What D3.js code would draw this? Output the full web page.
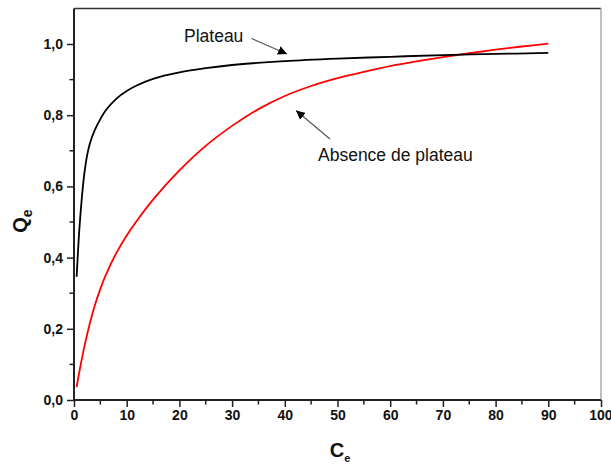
<!DOCTYPE html>
<html><head><meta charset="utf-8">
<script src="https://cdn.jsdelivr.net/npm/d3@7"></script>
<style>html,body{margin:0;padding:0;background:#fff;}svg{display:block;}</style>
</head><body>
<script>
// ---- Data ----
const cPlateau = [0.5,1,1.5,2,2.5,3,4,5,6,8,10,12,15,20,25,30,40,50,60,70,80,90];
const qPlateau = [0.346,0.476,0.57,0.64,0.688,0.72,0.76,0.789,0.813,0.846,0.868,0.884,0.902,0.92,0.932,0.941,0.952,0.959,0.964,0.969,0.972,0.975];
const cAbsence = [0.5,1,2,3,4,5,6,8,10,12,15,20,25,30,35,40,45,50,55,60,65,70,75,80,85,90];
const qAbsence = [0.036,0.078,0.152,0.215,0.268,0.312,0.35,0.412,0.462,0.505,0.563,0.645,0.714,0.770,0.817,0.854,0.882,0.904,0.922,0.938,0.951,0.963,0.974,0.984,0.993,1.001];
const xTicks = [0,10,20,30,40,50,60,70,80,90,100];
const yTicks = [0,0.2,0.4,0.6,0.8,1.0];
const labels = ["Plateau","Absence de plateau"];

const W = 611, H = 464;
const svg = d3.select("body").append("svg").attr("width", W).attr("height", H);
const x = d3.scaleLinear().domain([0,100]).range([74,601]);
const y = d3.scaleLinear().domain([0,1.1]).range([400,8.4]);
const fmt = d => d3.format(".1f")(d).replace(".", ",");
const font = "'Liberation Sans', Arial, sans-serif";

// frame top & right
svg.append("line").attr("x1",x(0)).attr("x2",x(100)).attr("y1",y(1.1)).attr("y2",y(1.1))
  .attr("stroke","#333").attr("stroke-width",1.5);
svg.append("line").attr("x1",x(100)).attr("x2",x(100)).attr("y1",y(1.1)).attr("y2",y(0))
  .attr("stroke","#aaa").attr("stroke-width",1.5);

// Axes
const xAxis = d3.axisBottom(x).tickValues(xTicks).tickSize(7).tickPadding(3).tickFormat(d3.format("d"));
const yAxis = d3.axisLeft(y).tickValues(yTicks).tickSize(7).tickPadding(4).tickFormat(fmt);
const gx = svg.append("g").attr("transform",`translate(0,${y(0)})`).call(xAxis);
const gy = svg.append("g").attr("transform",`translate(${x(0)},0)`).call(yAxis);
// minor ticks
const xMinor = d3.range(5,100,10);
gx.selectAll(".minor").data(xMinor).enter().append("line")
  .attr("x1",d=>x(d)).attr("x2",d=>x(d)).attr("y1",0).attr("y2",4.5);
const yMinor = [0.1,0.3,0.5,0.7,0.9];
gy.selectAll(".minor").data(yMinor).enter().append("line")
  .attr("y1",d=>y(d)).attr("y2",d=>y(d)).attr("x1",0).attr("x2",-4.5);
[gx,gy].forEach(g=>{
  g.select(".domain").attr("stroke","#222").attr("stroke-width",2);
  g.selectAll("line").attr("stroke","#222").attr("stroke-width",1.5);
  g.selectAll("text").attr("font-family",font).attr("font-weight","bold").attr("font-size",14).attr("fill","#111");
});
gy.select(".domain").attr("d",`M0,${y(0)}V${y(1.1)}`);
gx.select(".domain").attr("d",`M${x(0)},0H${x(100)}`);
// keep the last label inside the window
gx.selectAll(".tick text").filter(d => d === 100).attr("text-anchor","end").attr("dx", 11);

// Curves
const line = d3.line().curve(d3.curveCatmullRom.alpha(0.5));
const ptsP = cPlateau.map((c,i)=>[x(c),y(qPlateau[i])]);
const ptsA = cAbsence.map((c,i)=>[x(c),y(qAbsence[i])]);
svg.append("path").attr("d",line(ptsA)).attr("fill","none").attr("stroke","#ff0000").attr("stroke-width",1.8);
svg.append("path").attr("d",line(ptsP)).attr("fill","none").attr("stroke","#000").attr("stroke-width",1.8);

// Axis titles
const qt = svg.append("text").attr("transform","translate(27,221) rotate(-90)")
  .attr("text-anchor","middle").attr("font-family",font).attr("font-weight","bold").attr("font-size",20).attr("fill","#111");
qt.append("tspan").text("Q");
qt.append("tspan").attr("font-size",14).attr("dy",5).text("e");
const ct = svg.append("text").attr("x",340).attr("y",457)
  .attr("text-anchor","middle").attr("font-family",font).attr("font-weight","bold").attr("font-size",20).attr("fill","#111");
ct.append("tspan").text("C");
ct.append("tspan").attr("font-size",11).attr("dy",5).text("e");

// Annotations
svg.append("defs").append("marker").attr("id","ah").attr("viewBox","0 0 10 10").attr("refX",10).attr("refY",5)
  .attr("markerWidth",9).attr("markerHeight",9).attr("markerUnits","userSpaceOnUse").attr("orient","auto")
  .append("path").attr("d","M0,0L10,5L0,10z").attr("fill","#000");
svg.append("text").attr("x",184).attr("y",41.5).attr("font-family",font).attr("font-size",17.5).attr("fill","#111").text(labels[0]);
svg.append("line").attr("x1",251.5).attr("y1",38.5).attr("x2",287).attr("y2",54)
  .attr("stroke","#555").attr("stroke-width",1.2).attr("marker-end","url(#ah)");
svg.append("text").attr("x",318).attr("y",160.5).attr("font-family",font).attr("font-size",17.5).attr("fill","#111").text(labels[1]);
svg.append("line").attr("x1",330).attr("y1",139).attr("x2",296).attr("y2",110.5)
  .attr("stroke","#555").attr("stroke-width",1.2).attr("marker-end","url(#ah)");
</script>
</body></html>
